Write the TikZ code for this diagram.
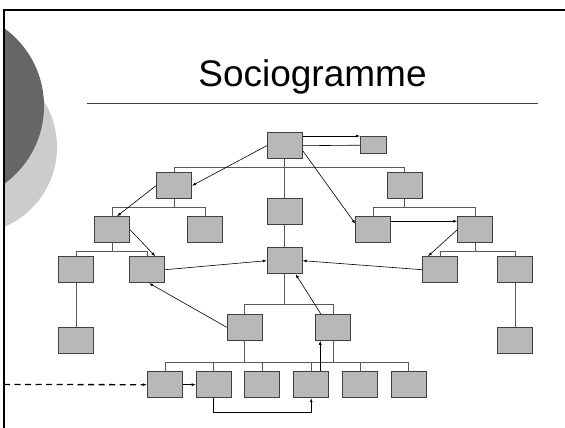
\documentclass[tikz,border=0pt]{standalone}
\usepackage{fontspec}
\setmainfont{Liberation Sans}
\usetikzlibrary{arrows.meta}

\definecolor{boxgray}{HTML}{B8B8B8}
\definecolor{discdark}{HTML}{666666}
\definecolor{disclight}{HTML}{CCCCCC}

\tikzset{
	member/.style={draw=black!75, fill=boxgray, line width=1pt,
		minimum width=35pt, minimum height=26pt, inner sep=0pt},
	tie/.style={draw=black!65, line width=0.9pt},
	link/.style={draw=black, line width=0.6pt},
	arr/.style={link, -{Latex[length=4pt,width=3pt]}},
}

\begin{document}
\begin{tikzpicture}[x=1pt,y=1pt]
	\useasboundingbox (0,0) rectangle (565,428);
	% slide background
	\begin{scope}
		\clip (4,0) rectangle (565,418);
		\fill[disclight] (-30,281) circle (87pt);
		\fill[discdark] (-52,322) circle (96pt);
	\end{scope}
	\draw[line width=2.3pt] (4,0) -- (4,418) -- (565,418);
	\node[anchor=base, font=\fontsize{37}{40}\selectfont] (title) at (312.5,341) {Sociogramme};
	\draw[draw=black!75, line width=1pt] (87,324.3) coordinate (ruleL) -- (538,324.3) coordinate (ruleR);

	% members
	\node[member] (top) at (284.7,282.3) {};
	\node[member, minimum width=25.7pt, minimum height=17.3pt] (aside) at (373.3,282.8) {};
	\node[member] (lA) at (174,242.3) {};
	\node[member] (rA) at (404.5,242.3) {};
	\node[member] (mid) at (284.7,216) {};
	\node[member] (hub) at (284.7,167.3) {};
	\node[member] (lB) at (112,198.3) {};
	\node[member] (lC) at (205,198.3) {};
	\node[member] (rB) at (373.3,198.3) {};
	\node[member] (rC) at (475.3,198.3) {};
	\node[member] (lD) at (76.2,158.3) {};
	\node[member] (lE) at (147.2,158.3) {};
	\node[member] (rD) at (440,158.3) {};
	\node[member] (rE) at (515,158.3) {};
	\node[member] (lF) at (76.2,87.3) {};
	\node[member] (rF) at (515,87.3) {};
	\node[member] (mA) at (244.7,100.7) {};
	\node[member] (mB) at (333.3,100.7) {};
	\foreach \x [count=\i] in {165,213.7,262.3,311.2,360,408.7}
		\node[member] (b\i) at (\x,43.3) {};

	% hierarchy
	\draw[tie] (top.south) -- (mid.north) (mid.south) -- (hub.north);
	\draw[tie] (lA.north) -- ++(0,5) -| (rA.north);
	\draw[tie] (lA.south) -- ++(0,-9);
	\draw[tie] (lB.north) -- ++(0,9) -| (lC.north);
	\draw[tie] (rA.south) -- ++(0,-9);
	\draw[tie] (rB.north) -- ++(0,9) -| (rC.north);
	\draw[tie] (lB.south) -- ++(0,-9);
	\draw[tie] (lD.north) -- ++(0,5) -| (lE.north);
	\draw[tie] (rC.south) -- ++(0,-9);
	\draw[tie] (rD.north) -- ++(0,5) -| (rE.north);
	\draw[tie] (lD.south) -- (lF.north);
	\draw[tie] (rE.south) -- (rF.north);
	\draw[tie] (hub.south) -- ++(0,-31.3);
	\draw[tie] (mA.north) -- ++(0,9.3) -| (mB.north);
	\draw[tie] (mA.south) -- ++(0,-22.4);
	\draw[tie] (mB.south) -- ++(0,-22.4);
	\draw[tie] (b1.north) -- ++(0,9) -| (b6.north);
	\foreach \i in {2,...,5}
		\draw[tie] (b\i.north) -- ++(0,9);

	% choices
	\draw[arr] (top.east |- aside.north west) -- (aside.north west);
	\draw[link] (top.east) -- (aside.west);
	\draw[arr] (top.west) -- (lA.east);
	\draw[arr] ([yshift=-5pt]top.east) -- ([yshift=6pt]rB.west);
	\draw[arr] (lA.west) -- ([xshift=5pt]lB.north);
	\draw[arr] (lB.east) -- ([xshift=8pt]lE.north);
	\draw[arr] (lE.east) -- (hub.west);
	\draw[arr] (rD.west) -- (hub.east);
	\draw[arr] ([yshift=8.5pt]rB.east) -- ([yshift=8.5pt]rC.west);
	\draw[arr] (rC.west) -- ([xshift=-12pt]rD.north);
	\draw[arr] (mA.west) -- ([xshift=2pt]lE.south);
	\draw[arr] ([xshift=-12.6pt]mB.north) -- ([xshift=11pt]hub.south);
	\coordinate (b4up) at ([xshift=9pt]b4.north);
	\draw[arr] (b4up) -- (b4up |- mB.south);
	\draw[arr] (b1.east) -- (b2.west);
	\draw[arr] (b2.south) -- ++(0,-13.7) -| (b4.south);
	\coordinate (entry) at (4,43.5);
	\draw[arr, line width=1.3pt, dash pattern=on 6pt off 4.5pt] (entry) -- (b1.west);
\end{tikzpicture}
\end{document}
